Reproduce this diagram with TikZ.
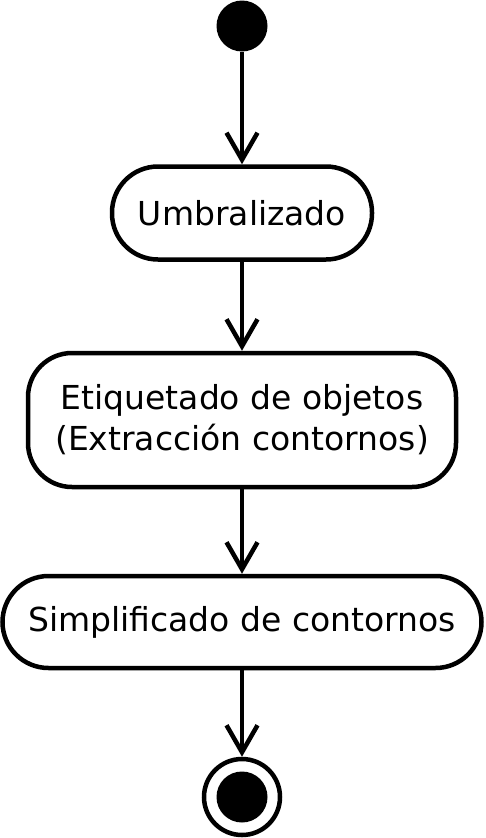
\documentclass[tikz,border=0pt]{standalone}
\usepackage{fontspec}
\setmainfont{DejaVu Sans}
\usetikzlibrary{arrows.meta}
\begin{document}
\begin{tikzpicture}[x=1pt,y=-1pt,
  act/.style={draw=black, line width=4.5pt, fill=white, rectangle, inner sep=0pt, align=center,
    font=\fontsize{33}{41}\selectfont},
  flow/.style={line width=4.5pt, -{Straight Barb[length=27pt,width=31pt,line width=4.5pt]}}]
\useasboundingbox (0,0) rectangle (485,838);
\node[circle, fill=black, minimum size=51pt, inner sep=0pt] (start) at (242,26) {};
\node[act, rounded corners=46pt, minimum width=260pt, minimum height=93pt] (a) at (242,213) {Umbralizado};
\node[act, rounded corners=44pt, minimum width=428pt, minimum height=134pt] (b) at (242,420) {Etiquetado de objetos\\(Extracción contornos)};
\node[act, rounded corners=46pt, minimum width=479pt, minimum height=92pt] (c) at (242,622) {Simplificado de contornos};
\node[circle, draw=black, line width=4.5pt, minimum size=76pt, inner sep=0pt] (end) at (242,797) {};
\node[circle, fill=black, minimum size=51pt, inner sep=0pt] (endin) at (end.center) {};
\draw[flow] (start) -- (a);
\draw[flow] (a) -- (b);
\draw[flow] (b) -- (c);
\draw[flow] (c) -- (end);
\end{tikzpicture}
\end{document}
